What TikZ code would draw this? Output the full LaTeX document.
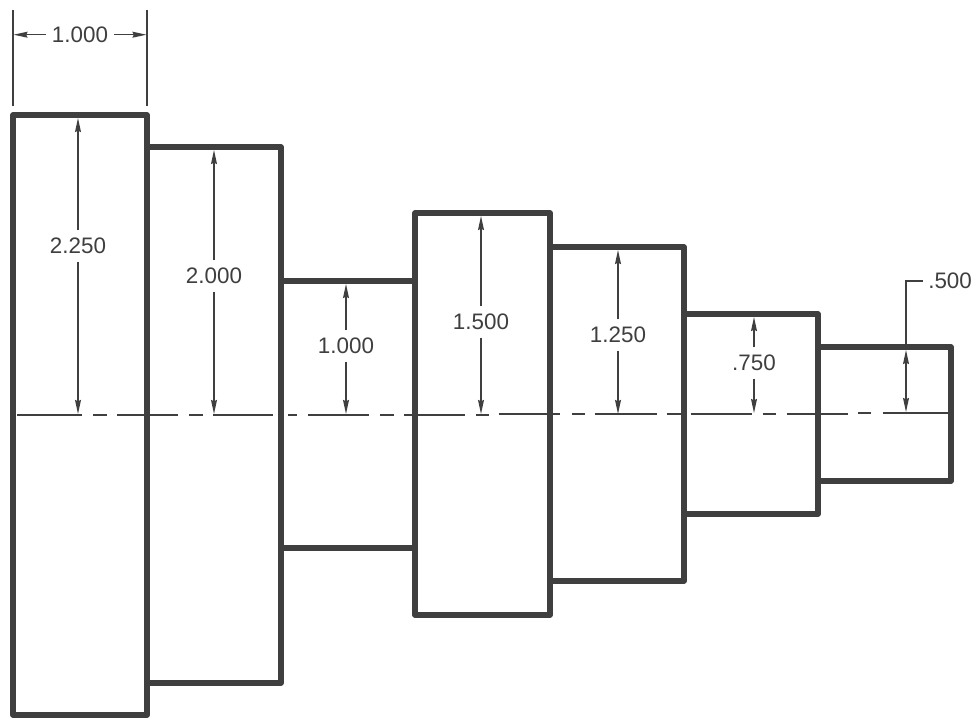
\documentclass[tikz,border=0pt]{standalone}
\usepackage{fontspec}
\setmainfont{Liberation Sans}
\usetikzlibrary{arrows.meta}
\definecolor{ink}{HTML}{3F3F3F}
\tikzset{
  stepbox/.style={draw=ink,line width=3.9pt,line join=round},
  thinline/.style={draw=ink,line width=1pt},
  dimline/.style={thinline,-{Stealth[length=10.5pt,width=4.4pt,inset=1pt]}},
  dimtext/.style={text=ink,font=\fontsize{16.8pt}{19pt}\selectfont,inner xsep=4.5pt,inner ysep=5.5pt,anchor=center},
  centerline/.style={draw=ink,line width=1.5pt}
}
\begin{document}
\begin{tikzpicture}[x=0.75pt,y=-0.75pt]
\useasboundingbox (0,0) rectangle (977,717);
\fill[white] (0,0) rectangle (977,717);
% shaft steps
\draw[stepbox] (13,115) rectangle (147,715);
\draw[stepbox] (147,147) -- (281,147) -- (281,683) -- (147,683);
\draw[stepbox] (281,281) -- (415,281);
\draw[stepbox] (281,548) -- (415,548);
\draw[stepbox] (415,213) rectangle (550,615);
\draw[stepbox] (550,247) -- (684,247) -- (684,581) -- (550,581);
\draw[stepbox] (684,314) -- (818,314) -- (818,514) -- (684,514);
\draw[stepbox] (818,347) -- (951,347) -- (951,481) -- (818,481);
% centre line, broken into long and short dashes
\foreach \a/\b/\ya in {17/82/415,93/107/415,117/178/415,189/203/415,213/273/415,288/297/415,308/369/415,380/394/415,404/465/414.7,476/489/414.7,499/560/414.2,572/585/414.2,595/657/414.2,667/681/414.2,691/752/414,763/776/413.5,787/848/413.5,858/871/413,883/949/413}
  \draw[centerline] (\a,\ya) -- (\b,\ya);
% extension lines of the width dimension
\coordinate (extLa) at (13,10);
\coordinate (extLb) at (13,106);
\coordinate (extRa) at (147,10);
\coordinate (extRb) at (147,106);
\draw[thinline] (extLa) -- (extLb);
\draw[thinline] (extRa) -- (extRb);
% width dimension
\node[dimtext] (w) at (80,34.7) {1.000};
\coordinate (wL) at (13.5,34.7);
\coordinate (wR) at (146.5,34.7);
\draw[dimline] (w) -- (wL);
\draw[dimline] (w) -- (wR);
% vertical dimensions
\foreach \n/\x/\ty/\top/\bot/\lab in {a/78/246/118/414/2.250,b/214/276/150/414/2.000,c/346/346/284/414/1.000,d/481/322/216/414/1.500,e/618/335/250/414/1.250,f/754/363/317/413/.750}{
  \node[dimtext] (t\n) at (\x,\ty) {\lab};
  \coordinate (u\n) at (\x,\top);
  \coordinate (v\n) at (\x,\bot);
  \draw[dimline] (t\n) -- (u\n);
  \draw[dimline] (t\n) -- (v\n);
}
% leader dimension
\node[dimtext,anchor=west,inner xsep=0pt] (g) at (928,281) {.500};
\coordinate (gTop) at (906,281);
\coordinate (gA) at (906,350);
\coordinate (gB) at (906,412);
\coordinate (gEnd) at (923,281);
\draw[thinline] (gA) -- (gTop) -- (gEnd);
\draw[dimline] (906,380) -- (gA);
\draw[dimline] (906,380) -- (gB);
\end{tikzpicture}
\end{document}
